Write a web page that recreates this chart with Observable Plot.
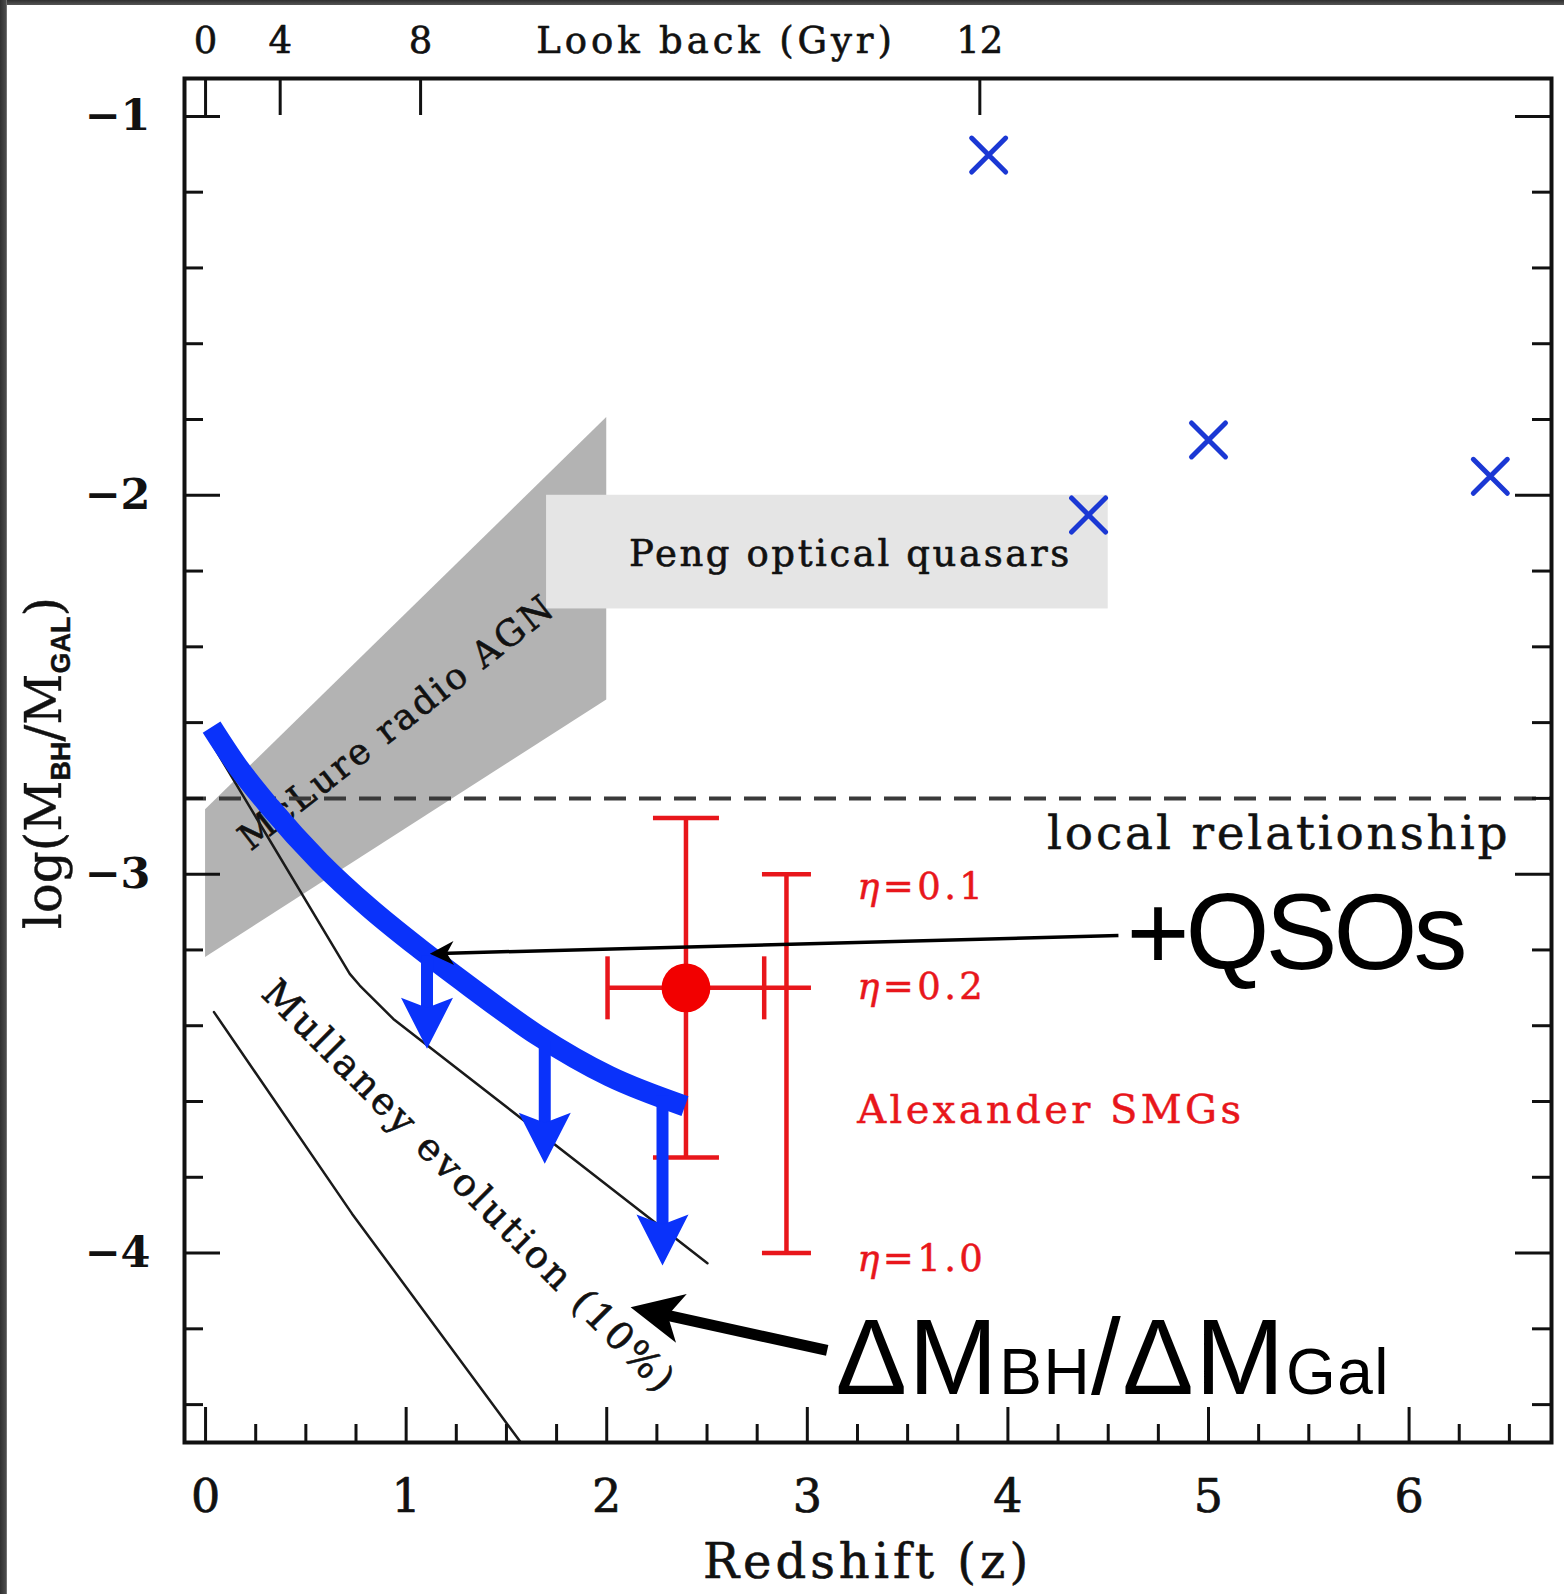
<!DOCTYPE html>
<html><head><meta charset="utf-8">
<script src="https://cdn.jsdelivr.net/npm/d3@7"></script>
<script src="https://cdn.jsdelivr.net/npm/@observablehq/plot@0.6"></script>
<style>
html,body{margin:0;padding:0;background:#fff;}
#wrap{position:relative;width:1564px;height:1594px;overflow:hidden;background:#fff;}
#chart svg{display:block;}
#topbar{position:absolute;left:0;top:0;width:1564px;height:5px;background:linear-gradient(#2f2f2f,#555);}
#leftbar{position:absolute;left:0;top:0;width:7px;height:1594px;background:linear-gradient(90deg,#2f2f2f,#4a4a4a 80%,#888);}
</style>
</head><body><div id="wrap"><div id="chart"></div><div id="topbar"></div><div id="leftbar"></div></div>
<script>
// ---------- axis ticks ----------
const xMajorTicks = [0, 1, 2, 3, 4, 5, 6];
const xTickLabels = ["0", "1", "2", "3", "4", "5", "6"];
const xMinorTicks = [0.25, 0.5, 0.75, 1.25, 1.5, 1.75, 2.25, 2.5, 2.75, 3.25, 3.5, 3.75, 4.25, 4.5, 4.75, 5.25, 5.5, 5.75, 6.25, 6.5];
const yMajorTicks = [-1, -2, -3, -4];
const yTickLabels = ["\u22121", "\u22122", "\u22123", "\u22124"];
const yMinorTicks = [-1.2, -1.4, -1.6, -1.8, -2.2, -2.4, -2.6, -2.8, -3.2, -3.4, -3.6, -3.8, -4.2, -4.4];
const lookbackLabels = ["0", "4", "8", "12"];
const lookbackZ = [0, 0.372, 1.072, 3.86];

// ---------- data ----------
const mclureZ = [0, 2];
const mclureLow = [-3.22, -2.54];
const mclureHigh = [-2.83, -1.795];

const pengZ = [1.70, 4.50];
const pengY = [-2.30, -2.00];

const localRelation = -2.8;

const qsoZ = [3.904, 4.402, 5.0, 6.405];
const qsoY = [-1.102, -2.052, -1.854, -1.950];

const smgZ = 2.395, smgY = -3.30;
const smgZErr = [2.004, 2.785];
const smgYErr = [-3.748, -2.852];
const etaZ = 2.896;
const etaY = [-3.0, -3.3, -4.0];

const mullaneyHighZ = [0.04, 0.221, 0.719, 0.769, 0.936, 2.502];
const mullaneyHighY = [-2.663, -2.823, -3.263, -3.294, -3.382, -4.027];
const mullaneyLowZ = [0.042, 0.730, 1.478, 1.60];
const mullaneyLowY = [-3.364, -3.896, -4.433, -4.52];

const limitZ = [0.03, 0.155, 0.321, 0.570, 0.819, 1.068, 1.318, 1.655, 2.012, 2.39];
const limitY = [-2.612, -2.712, -2.823, -2.968, -3.090, -3.197, -3.297, -3.425, -3.533, -3.612];

const limitArrowZ = [1.104, 1.691, 2.278];
const limitArrowTop = [-3.215, -3.44, -3.585];
const limitArrowTip = [-3.461, -3.764, -4.033];

const qsoArrowZ = [4.551, 1.118];
const qsoArrowY = [-3.162, -3.210];
const dmArrowZ = [3.099, 2.119];
const dmArrowY = [-4.257, -4.143];

// labels (text + position)
const pengLabel = [{t: "Peng optical quasars", z: 3.215, y: -2.156}];
const mclureLabel = [{t: "McLure radio AGN", z: 0.955, y: -2.600}];
const mullaneyLabel = [{t: "Mullaney evolution (10%)", z: 1.313, y: -3.826}];
const localLabel = [{t: "local relationship", z: 6.505, y: -2.895}];
const etaLabels = [{t: "\u03b7=0.1", z: 3.249, y: -3.035}, {t: "\u03b7=0.2", z: 3.249, y: -3.299}, {t: "\u03b7=1.0", z: 3.249, y: -4.016}];
const smgLabel = [{t: "Alexander SMGs", z: 3.249, y: -3.622}];
const qsoText = [{t: "+QSOs", z: 4.591, y: -3.249}];
const dmText = [{t: "\u0394MBH/\u0394MGal", z: 3.141, y: -4.371}];

// ---------- layout / style ----------
const W = 1564, H = 1594;
const mL = 184, mR = 13, mT = 78, mB = 152;
const xDomain = [-0.105, 6.71];
const yDomain = [-4.5, -0.9];
const frameW = W - mL - mR;
const frameH = H - mT - mB;
const serif = "'DejaVu Serif', serif";
const sans = "'Liberation Sans', Arial, Helvetica, sans-serif";
const ink = "#111";
const red = "#e8161b";
const blue = "#0a32fa";
const crossBlue = "#1b38d4";

const px = z => mL + (z - xDomain[0]) / (xDomain[1] - xDomain[0]) * frameW;
const py = v => mT + (yDomain[1] - v) / (yDomain[1] - yDomain[0]) * frameH;
const headRotate = (zs, ys) => 90 + Math.atan2(py(ys[0]) - py(ys[1]), px(zs[0]) - px(zs[1])) * 180 / Math.PI;

const arrowHead = (L, w, n) => ({draw(c) { c.moveTo(0, 0); c.lineTo(-w / 2, -L); c.lineTo(0, -n); c.lineTo(w / 2, -L); c.closePath(); }});
const hCap = w => ({draw(c) { c.moveTo(-w / 2, 0); c.lineTo(w / 2, 0); }});
const vCap = h => ({draw(c) { c.moveTo(0, -h / 2); c.lineTo(0, h / 2); }});
const xMark = s => ({draw(c) { c.moveTo(-s, -s); c.lineTo(s, s); c.moveTo(-s, s); c.lineTo(s, -s); }});

// tables
const mclure = mclureZ.map((z, i) => ({z, lo: mclureLow[i], hi: mclureHigh[i]}));
const peng = [{z1: pengZ[0], z2: pengZ[1], y1: pengY[0], y2: pengY[1]}];
const quasars = qsoZ.map((z, i) => ({z, y: qsoY[i]}));
const mullaneyHigh = mullaneyHighZ.map((z, i) => ({z, y: mullaneyHighY[i]}));
const mullaneyLow = mullaneyLowZ.map((z, i) => ({z, y: mullaneyLowY[i]}));
const limitCurve = limitZ.map((z, i) => ({z, y: limitY[i]}));
const limitArrows = limitArrowZ.map((z, i) => ({z, top: limitArrowTop[i], tip: limitArrowTip[i]}));
const qsoArrow = [{z1: qsoArrowZ[0], y1: qsoArrowY[0], z2: qsoArrowZ[1], y2: qsoArrowY[1]}];
const dmArrow = [{z1: dmArrowZ[0], y1: dmArrowY[0], z2: dmArrowZ[1], y2: dmArrowY[1]}];
const smgBars = [
  {x1: smgZ, x2: smgZ, y1: smgYErr[0], y2: smgYErr[1]},
  {x1: smgZErr[0], x2: smgZErr[1], y1: smgY, y2: smgY},
  {x1: etaZ, x2: etaZ, y1: etaY[2], y2: etaY[0]}
];
const smgVCaps = smgYErr.map(y => ({z: smgZ, y}));
const smgHCaps = smgZErr.map(z => ({z, y: smgY}));
const etaCaps = etaY.map(y => ({z: etaZ, y}));

const txt = (data, o) => Plot.text(data, {x: "z", y: "y", text: "t", fill: ink, fontFamily: serif, lineAnchor: "middle", ...o});

const svg = Plot.plot({
  width: W, height: H,
  marginLeft: mL, marginRight: mR, marginTop: mT, marginBottom: mB,
  x: {domain: xDomain, axis: null},
  y: {domain: yDomain, axis: null},
  style: {background: "white", overflow: "visible"},
  marks: [
    Plot.areaY(mclure, {x: "z", y1: "lo", y2: "hi", fill: "#b3b3b3"}),
    Plot.rect(peng, {x1: "z1", x2: "z2", y1: "y1", y2: "y2", fill: "#e5e5e5"}),
    txt(pengLabel, {fontSize: 37, stroke: ink, strokeWidth: 0.6}),
    txt(mclureLabel, {fontSize: 36, rotate: -38, stroke: ink, strokeWidth: 0.6}),
    Plot.ruleY([localRelation], {stroke: "#3a3a3a", strokeWidth: 4, strokeDasharray: "22,13"}),
    Plot.line(mullaneyHigh, {x: "z", y: "y", stroke: "#1a1a1a", strokeWidth: 2.5, clip: true}),
    Plot.line(mullaneyLow, {x: "z", y: "y", stroke: "#1a1a1a", strokeWidth: 2.5, clip: true}),
    txt(mullaneyLabel, {fontSize: 38, rotate: 45, stroke: ink, strokeWidth: 0.6}),
    txt(localLabel, {fontSize: 47, textAnchor: "end", stroke: ink, strokeWidth: 0.5}),
    Plot.link(smgBars, {x1: "x1", x2: "x2", y1: "y1", y2: "y2", stroke: red, strokeWidth: 4.5}),
    Plot.dot(smgVCaps, {x: "z", y: "y", r: 1, symbol: hCap(66), fill: "none", stroke: red, strokeWidth: 4.5}),
    Plot.dot(smgHCaps, {x: "z", y: "y", r: 1, symbol: vCap(63), fill: "none", stroke: red, strokeWidth: 4.5}),
    Plot.dot(etaCaps, {x: "z", y: "y", r: 1, symbol: hCap(49), fill: "none", stroke: red, strokeWidth: 4.5}),
    Plot.dot([{z: smgZ, y: smgY}], {x: "z", y: "y", r: 24.4, fill: "#f20000", stroke: "none"}),
    txt(etaLabels, {fontSize: 37, textAnchor: "start", fill: red, stroke: red, strokeWidth: 0.5}),
    txt(smgLabel, {fontSize: 40, textAnchor: "start", fill: red, stroke: red, strokeWidth: 0.5}),
    Plot.dot(quasars, {x: "z", y: "y", r: 1, symbol: xMark(17), fill: "none", stroke: crossBlue, strokeWidth: 5, strokeLinecap: "round"}),
    Plot.line(limitCurve, {x: "z", y: "y", stroke: blue, strokeWidth: 21, curve: "monotone-x", strokeLinecap: "butt", strokeLinejoin: "round"}),
    Plot.arrow(limitArrows, {x1: "z", y1: "top", x2: "z", y2: "tip", insetEnd: 20, headLength: 0, stroke: blue, strokeWidth: 12, strokeLinecap: "butt"}),
    Plot.dot(limitArrows, {x: "z", y: "tip", r: 1, symbol: arrowHead(51, 52, 41), fill: blue, stroke: "none"}),
    Plot.arrow(qsoArrow, {x1: "z1", y1: "y1", x2: "z2", y2: "y2", insetEnd: 10, headLength: 0, stroke: "#000", strokeWidth: 3.5, strokeLinecap: "butt"}),
    Plot.dot(qsoArrow, {x: "z2", y: "y2", r: 1, symbol: arrowHead(24, 24, 17), rotate: headRotate(qsoArrowZ, qsoArrowY), fill: "#000", stroke: "none"}),
    Plot.arrow(dmArrow, {x1: "z1", y1: "y1", x2: "z2", y2: "y2", insetEnd: 25, headLength: 0, stroke: "#000", strokeWidth: 11, strokeLinecap: "butt"}),
    Plot.dot(dmArrow, {x: "z2", y: "y2", r: 1, symbol: arrowHead(52, 50, 38), rotate: headRotate(dmArrowZ, dmArrowY), fill: "#000", stroke: "none"}),
    txt(qsoText, {fontSize: 108, fontFamily: sans, textAnchor: "start", lineAnchor: "bottom", fill: "#000"}),
    txt(dmText, {fontSize: 107, fontFamily: sans, textAnchor: "start", lineAnchor: "bottom", fill: "#000"}),
    // axes
    Plot.ruleX(xMajorTicks, {insetTop: frameH - 35, stroke: ink, strokeWidth: 3}),
    Plot.ruleX(xMinorTicks, {insetTop: frameH - 18, stroke: ink, strokeWidth: 3}),
    Plot.ruleX(lookbackZ, {insetBottom: frameH - 37, stroke: ink, strokeWidth: 3}),
    Plot.ruleY(yMajorTicks, {insetRight: frameW - 36, stroke: ink, strokeWidth: 3}),
    Plot.ruleY(yMinorTicks, {insetRight: frameW - 19, stroke: ink, strokeWidth: 3}),
    Plot.ruleY(yMajorTicks, {insetLeft: frameW - 36, stroke: ink, strokeWidth: 3}),
    Plot.ruleY(yMinorTicks, {insetLeft: frameW - 19, stroke: ink, strokeWidth: 3}),
    Plot.text(xMajorTicks, {x: d => d, text: (d, i) => xTickLabels[i], frameAnchor: "bottom", lineAnchor: "middle", dy: 55, fontSize: 46, fontFamily: serif, fill: ink, stroke: ink, strokeWidth: 0.7}),
    Plot.text(lookbackZ, {x: d => d, text: (d, i) => lookbackLabels[i], frameAnchor: "top", lineAnchor: "middle", dy: -37, fontSize: 37, fontFamily: serif, fill: ink, stroke: ink, strokeWidth: 0.6}),
    Plot.text(["Look back (Gyr)"], {x: 2.545, text: d => d, frameAnchor: "top", lineAnchor: "middle", dy: -37, fontSize: 37, fontFamily: serif, fill: ink, stroke: ink, strokeWidth: 0.6}),
    Plot.text(["Redshift (z)"], {x: 3.30, text: d => d, frameAnchor: "bottom", lineAnchor: "middle", dy: 120, fontSize: 48, fontFamily: serif, fill: ink, stroke: ink, strokeWidth: 0.6}),
    Plot.text(yMajorTicks, {y: d => d, text: (d, i) => yTickLabels[i], frameAnchor: "left", lineAnchor: "middle", dx: -34, textAnchor: "end", fontSize: 43, fontWeight: "bold", fontFamily: serif, fill: ink}),
    Plot.text(["log(MBH/MGAL)"], {y: -2.707, text: d => d, frameAnchor: "left", textAnchor: "middle", lineAnchor: "middle", dx: -140, rotate: -90, fontSize: 50, fontFamily: serif, fill: ink, stroke: ink, strokeWidth: 0.4}),
    Plot.frame({stroke: ink, strokeWidth: 4})
  ]
});

// letter spacing (style) per label, and rich text parts
const spacing = {
  "Peng optical quasars": 2.6, "McLure radio AGN": 2.7, "Mullaney evolution (10%)": 3,
  "local relationship": 2.8, "Alexander SMGs": 3.4, "\u03b7=0.1": 3.4, "\u03b7=0.2": 3.4, "\u03b7=1.0": 3.4,
  "Look back (Gyr)": 3.9, "Redshift (z)": 4, "+QSOs": -4, "\u0394MBH/\u0394MGal": 1.5
};
const subY = {"font-size": 27, "font-family": sans, "font-weight": "bold"};
const richParts = {
  "\u0394MBH/\u0394MGal": [["\u0394M"], ["BH", {"font-size": 64}], ["/\u0394M"], ["Gal", {"font-size": 64}]],
  "log(MBH/MGAL)": [["log(M"], ["BH", {...subY, dy: 9}], ["/M", {dy: -9}], ["GAL", {...subY, dy: 9}], [")", {dy: -9}]],
  "\u03b7=0.1": [["\u03b7", {"font-style": "italic"}], ["=0.1"]],
  "\u03b7=0.2": [["\u03b7", {"font-style": "italic"}], ["=0.2"]],
  "\u03b7=1.0": [["\u03b7", {"font-style": "italic"}], ["=1.0"]]
};
d3.select(svg).selectAll("text").each(function () {
  const t = this.textContent;
  if (spacing[t] !== undefined) this.style.letterSpacing = spacing[t] + "px";
  const parts = richParts[t];
  if (parts) {
    const sel = d3.select(this);
    sel.text(null);
    for (const [s, attrs] of parts) {
      const ts = sel.append("tspan").text(s);
      if (attrs) for (const k in attrs) ts.attr(k, attrs[k]);
    }
  }
});
document.getElementById("chart").appendChild(svg);
</script></body></html>
